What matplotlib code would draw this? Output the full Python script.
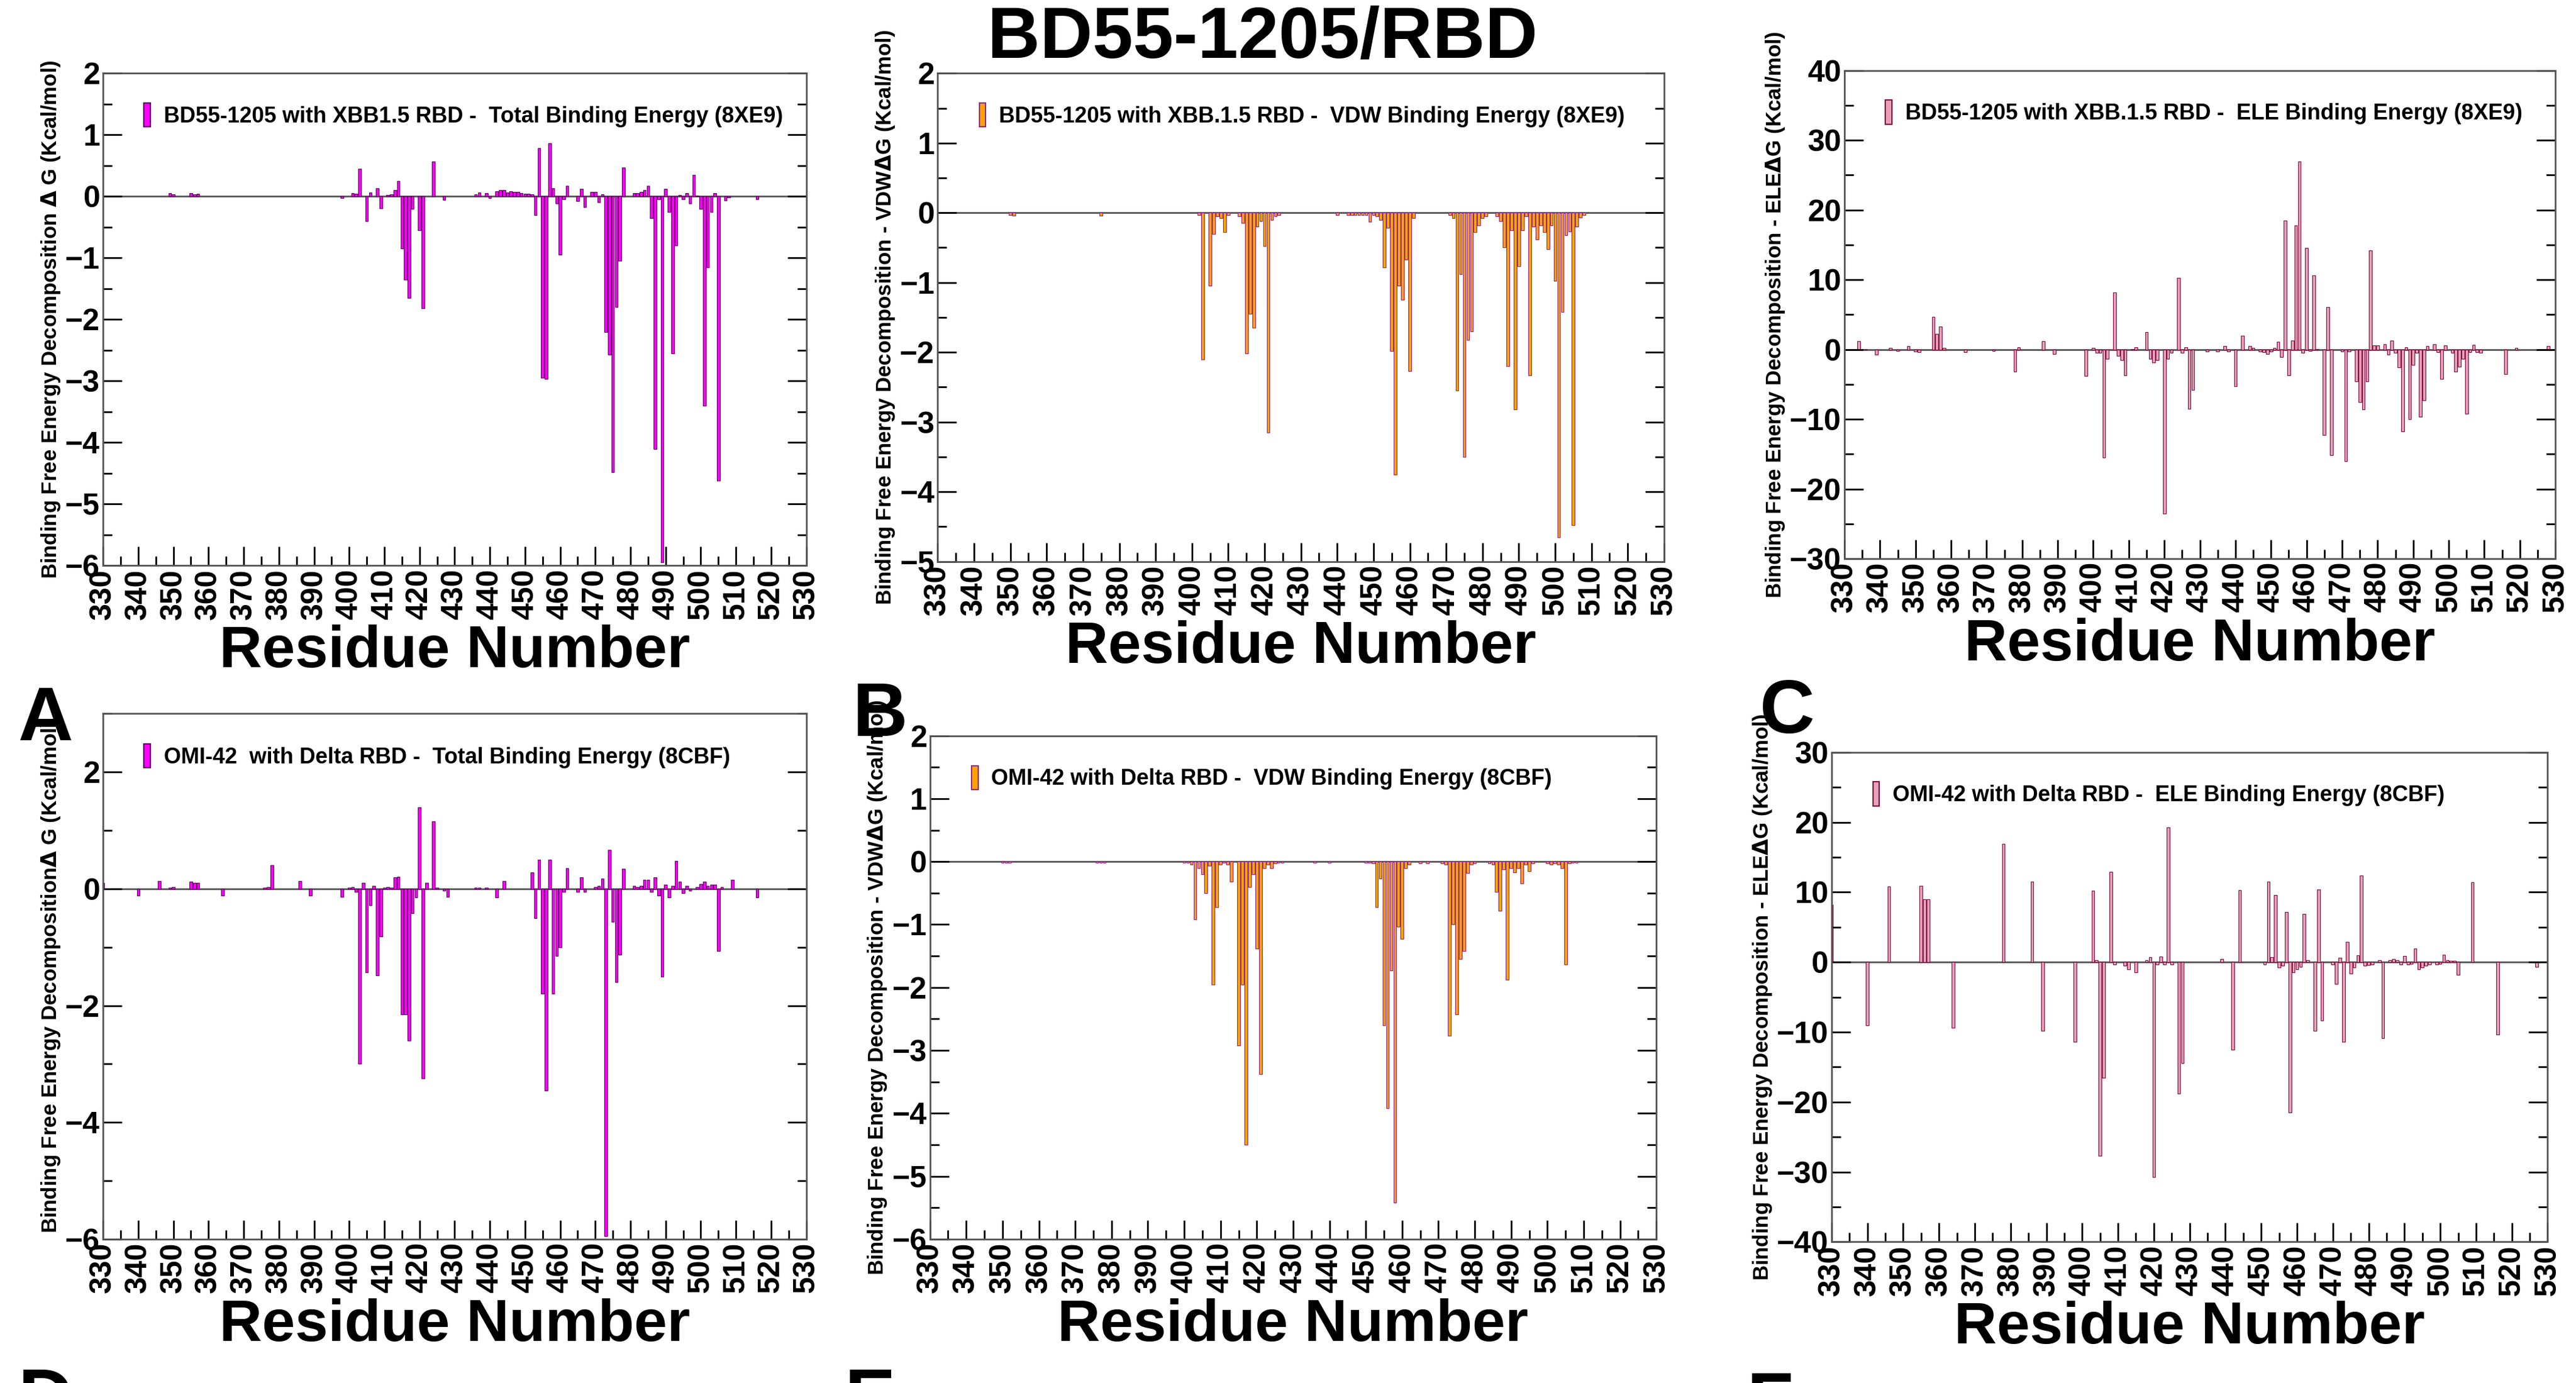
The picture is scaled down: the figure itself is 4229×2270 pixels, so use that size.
import matplotlib.pyplot as plt
from matplotlib.patches import Rectangle
from matplotlib.ticker import MultipleLocator

plt.rcParams['font.family'] = 'Liberation Sans'
plt.rcParams['font.weight'] = 'bold'

# ---- data: residue numbers and energies (kcal/mol) ----
res_a = [349,350,355,356,357,398,401,402,403,405,406,408,409,411,412,413,414,415,416,417,418,420,421,424,427,
         436,437,439,440,442,443,444,445,446,447,448,449,450,451,452,453,454,455,456,457,458,459,460,461,462,
         465,466,467,469,470,471,472,473,474,475,476,477,478,481,482,483,484,485,486,487,488,489,490,491,492,
         493,494,495,496,497,498,499,500,501,502,503,504,505,507,508,516]
val_a = [0.05,0.03,0.05,0.03,0.04,-0.03,0.05,0.04,0.45,-0.4,0.06,0.13,-0.19,0.02,0.03,0.1,0.25,-0.85,-1.35,-1.65,-0.2,-0.55,-1.82,0.57,-0.06,
         0.03,0.06,0.05,-0.03,0.08,0.1,0.1,0.06,0.08,0.07,0.07,0.05,0.04,0.04,0.03,-0.3,0.79,-2.95,-2.97,0.86,0.13,-0.12,-0.95,-0.05,0.17,
         -0.08,0.12,-0.17,0.07,0.07,-0.1,0.03,-2.2,-2.57,-4.48,-1.8,-1.05,0.47,0.05,0.05,0.07,0.1,0.17,-0.35,-4.1,-0.05,-5.95,0.12,-0.25,-2.55,
         -0.8,0.02,-0.05,0.05,-0.12,0.35,0.01,-0.2,-3.4,-1.15,-0.25,0.05,-4.62,-0.07,-0.02,-0.05]

res_b = [350,351,375,402,403,405,406,407,408,409,410,413,414,415,416,417,418,419,420,421,422,423,424,440,443,444,445,446,
         447,448,449,450,451,452,453,454,455,456,457,458,459,460,461,471,472,473,474,475,476,477,478,479,480,481,484,485,
         486,487,488,489,490,491,492,493,494,495,496,497,498,499,500,501,502,503,504,505,506,507,508]
val_b = [-0.03,-0.04,-0.04,-0.03,-2.1,-1.05,-0.3,-0.05,-0.08,-0.28,-0.03,-0.05,-0.15,-2.02,-1.45,-1.65,-0.2,-0.12,-0.48,-3.15,-0.1,-0.05,-0.03,-0.03,-0.03,-0.03,-0.03,-0.03,
         -0.03,-0.03,-0.13,-0.03,-0.05,-0.1,-0.78,-0.22,-1.98,-3.75,-1.05,-1.25,-0.67,-2.27,-0.08,-0.03,-0.08,-2.55,-0.88,-3.5,-1.82,-1.7,-0.28,-0.18,-0.08,-0.05,-0.05,-0.12,
         -0.5,-2.2,-0.25,-2.82,-0.77,-0.25,-0.05,-2.33,-0.2,-0.38,-0.18,-0.28,-0.52,-0.18,-0.98,-4.65,-1.42,-0.32,-0.27,-4.48,-0.2,-0.07,-0.03]

res_c = [334,336,339,343,345,348,350,351,355,356,357,358,364,372,378,379,386,389,398,400,401,402,403,404,406,407,408,409,411,412,
         415,416,417,418,420,421,422,424,425,426,427,428,432,435,437,438,440,442,444,445,447,448,449,450,451,452,453,454,455,456,
         457,458,459,460,461,462,463,465,466,467,470,471,472,474,475,476,477,478,479,480,482,483,484,485,486,487,488,489,490,491,
         492,493,494,496,497,498,499,501,502,503,504,505,506,507,508,509,516,519,528]
val_c = [1.2,0.1,-0.7,0.2,-0.2,0.5,-0.3,-0.4,4.7,2.2,3.3,0.2,-0.4,-0.2,-3.2,0.3,1.2,-0.6,-3.8,0.2,-0.5,-0.5,-15.5,-1.3,8.2,-0.9,-1.5,-3.7,0.1,0.3,
         2.5,-1.3,-1.9,-1.5,-23.5,-1.3,-0.5,10.3,-0.5,0.3,-8.5,-5.8,-0.3,-0.3,0.5,-0.3,-5.3,2.0,0.5,0.2,-0.3,-0.4,-0.6,-0.3,0.2,1.1,-1.1,18.5,-3.7,1.3,
         17.8,27.0,-0.5,14.6,-0.2,10.6,0.1,-12.3,6.1,-15.1,-0.3,-16.0,-0.3,-4.6,-7.5,-8.6,-4.6,14.2,0.6,0.6,0.8,-0.7,1.3,-0.5,-2.6,-11.7,0.3,-10.0,-2.2,-0.5,
         -9.6,-7.3,0.5,0.8,-0.4,-4.2,0.6,-0.5,-3.2,-2.5,-1.3,-9.2,-0.4,0.7,-0.4,-0.5,-3.5,0.2,0.5]

res_d = [330,340,346,349,350,355,356,357,364,376,377,378,386,389,398,400,401,402,403,404,405,406,407,408,409,410,411,412,413,414,
         415,416,417,418,419,420,421,422,424,425,427,428,436,437,439,442,444,452,453,454,455,456,457,458,459,460,461,462,465,466,
         467,470,471,472,473,474,475,476,477,478,481,482,483,484,485,486,487,488,489,490,491,492,493,494,495,496,497,499,500,501,
         502,503,504,505,506,509,516]
val_d = [0.1,-0.12,0.13,0.02,0.03,0.12,0.1,0.1,-0.12,0.02,0.03,0.41,0.13,-0.12,-0.14,0.02,0.03,-0.05,-3.0,0.1,-1.43,-0.28,0.05,-1.48,-0.82,0.02,0.03,0.02,0.2,0.21,
         -2.15,-2.15,-2.6,-0.42,-0.15,1.4,-3.25,0.1,1.16,0.02,-0.03,-0.14,0.02,0.02,0.02,-0.15,0.13,0.28,-0.5,0.5,-1.8,-3.45,0.5,-1.8,-1.15,-1.0,-0.05,0.35,-0.05,0.2,
         -0.05,0.03,0.05,0.18,-5.95,0.67,-0.57,-1.6,-1.13,0.34,0.05,0.03,0.05,0.15,0.15,-0.05,0.2,-0.12,-1.5,0.07,-0.15,0.05,0.48,0.12,-0.07,0.05,-0.03,0.03,0.08,0.12,
         0.05,0.07,0.07,-1.07,0.03,0.15,-0.15]

res_e = [350,351,352,376,377,378,400,401,402,403,404,405,406,407,408,409,410,411,412,413,415,416,417,418,419,420,421,422,423,424,
         425,426,427,436,440,450,451,452,453,454,455,456,457,458,459,460,461,462,465,467,471,472,473,474,475,476,477,478,479,480,
         484,485,486,487,488,489,490,491,492,493,494,495,496,500,501,502,503,504,505,506,507,508]
val_e = [-0.02,-0.02,-0.02,-0.02,-0.02,-0.02,-0.02,-0.02,-0.05,-0.92,-0.1,-0.2,-0.5,-0.07,-1.95,-0.72,-0.05,-0.02,-0.05,-0.32,-2.92,-1.95,-4.5,-0.4,-0.2,-1.38,-3.38,-0.1,-0.05,-0.1,
         -0.03,-0.02,-0.02,-0.02,-0.02,-0.02,-0.02,-0.03,-0.72,-0.27,-2.6,-3.92,-1.73,-5.42,-1.03,-1.23,-0.1,-0.05,-0.03,-0.03,-0.03,-0.05,-2.77,-1.0,-2.43,-1.55,-1.42,-0.18,-0.05,-0.03,
         -0.03,-0.05,-0.48,-0.78,-0.12,-1.88,-0.1,-0.17,-0.1,-0.35,-0.05,-0.15,-0.03,-0.03,-0.05,-0.03,-0.05,-0.1,-1.63,-0.03,-0.02,-0.02]

res_f = [330,340,346,355,356,357,364,378,386,389,398,403,404,405,406,408,409,412,413,415,418,419,420,421,422,423,424,425,427,428,
         439,442,444,451,452,453,454,455,456,457,458,459,460,461,462,463,465,466,467,470,471,472,473,474,475,476,477,478,479,480,
         481,483,484,486,487,488,489,490,491,492,493,494,495,496,497,499,500,501,502,503,504,505,509,516,527]
val_f = [8.2,-9.0,10.8,10.9,9.0,9.0,-9.4,16.9,11.5,-9.8,-11.4,10.2,0.3,-27.7,-16.5,12.9,-0.3,-0.5,-1.0,-1.5,0.3,0.7,-30.7,-0.3,0.8,-0.3,19.3,-0.3,-18.8,-14.4,
         0.5,-12.5,10.3,-0.3,11.5,0.7,9.6,-0.8,-0.5,7.2,-21.5,-1.5,-1.0,-0.7,6.9,0.3,-9.8,10.4,-8.3,-0.3,-3.1,0.6,-11.4,2.9,-1.6,-0.8,1.0,12.4,-0.5,-0.4,
         -0.3,0.3,-10.9,0.3,0.5,0.3,-0.3,0.9,-0.3,-0.2,1.9,-1.0,-0.8,-0.5,-0.3,-0.3,-0.2,1.1,0.3,0.2,0.2,-1.8,11.4,-10.3,-0.7]

magenta = '#ff00ff'
orange = '#ffa200'
rose = '#e8a0b8'

panels = [
    # letter, res, val, face, edge, ylim, major, minor, ylabel, legend, rect(l,b,w,h)
    ('A', res_a, val_a, magenta, '#5a005a', (-6, 2), 1, 0.5,
     'Binding Free Energy Decomposition $\\Delta$ G (Kcal/mol)',
     'BD55-1205 with XBB1.5 RBD -  Total Binding Energy (8XE9)', (0.040, 0.591, 0.273, 0.356)),
    ('B', res_b, val_b, orange, '#8a2a8a', (-5, 2), 1, 0.5,
     'Binding Free Energy Decomposition - VDW$\\Delta$G (Kcal/mol)',
     'BD55-1205 with XBB.1.5 RBD -  VDW Binding Energy (8XE9)', (0.364, 0.594, 0.282, 0.353)),
    ('C', res_c, val_c, rose, '#7a1040', (-30, 40), 10, 5,
     'Binding Free Energy Decomposition - ELE$\\Delta$G (Kcal/mol)',
     'BD55-1205 with XBB.1.5 RBD -  ELE Binding Energy (8XE9)', (0.716, 0.596, 0.276, 0.353)),
    ('D', res_d, val_d, magenta, '#5a005a', (-6, 3), 2, 1,
     'Binding Free Energy Decomposition$\\Delta$ G (Kcal/mol)',
     'OMI-42  with Delta RBD -  Total Binding Energy (8CBF)', (0.040, 0.104, 0.273, 0.380)),
    ('E', res_e, val_e, orange, '#8a2a8a', (-6, 2), 1, 0.5,
     'Binding Free Energy Decomposition - VDW$\\Delta$G (Kcal/mol)',
     'OMI-42 with Delta RBD -  VDW Binding Energy (8CBF)', (0.361, 0.104, 0.282, 0.364)),
    ('F', res_f, val_f, rose, '#7a1040', (-40, 30), 10, 5,
     'Binding Free Energy Decomposition - ELE$\\Delta$G (Kcal/mol)',
     'OMI-42 with Delta RBD -  ELE Binding Energy (8CBF)', (0.711, 0.102, 0.278, 0.354)),
]

fig = plt.figure(figsize=(42.29, 22.70), dpi=100)

for letter, res, val, face, edge, ylim, major, minor, ylabel, leg, rect in panels:
    ax = fig.add_axes(rect)
    ax.bar(res, val, width=0.8, color=face, edgecolor=edge, linewidth=0.8)
    ax.axhline(0, color='#555555', lw=2, zorder=0)
    ax.set_xlim(330, 530)
    ax.set_ylim(*ylim)
    ax.xaxis.set_major_locator(MultipleLocator(10))
    ax.xaxis.set_minor_locator(MultipleLocator(5))
    ax.yaxis.set_major_locator(MultipleLocator(major))
    ax.yaxis.set_minor_locator(MultipleLocator(minor))
    ax.tick_params(which='both', direction='in', left=True, right=True, bottom=True, top=False)
    ax.tick_params(which='major', length=22, width=2)
    ax.tick_params(which='minor', length=11, width=2)
    ax.tick_params(axis='x', labelrotation=90, labelsize=36)
    ax.tick_params(axis='y', labelsize=36)
    for t in ax.get_xticklabels() + ax.get_yticklabels():
        t.set_fontweight('bold')
    if letter == 'D':
        ax.set_yticks([-6, -4, -2, 0, 2])
    for s in ax.spines.values():
        s.set_color('#555555')
        s.set_linewidth(2)
    ax.set_ylabel(ylabel, fontsize=25, fontweight='bold', labelpad=4)
    ax.set_xlabel('Residue Number', fontsize=70, fontweight='bold', labelpad=6)
    handle = Rectangle((0, 0), 1, 1, facecolor=face, edgecolor=edge, lw=1.5)
    ax.legend([handle], [leg], loc='upper left', frameon=False, fontsize=26,
              handlelength=0.3, handleheight=1.3, handletextpad=0.6,
              bbox_to_anchor=(0.03, 0.98))
    dy = 0.052 if rect[1] > 0.5 else 0.058
    fig.text(rect[0] - 0.033, rect[1] - dy - 0.06, letter, fontsize=90, fontweight='bold',
             ha='left', va='center')

fig.text(0.49, 0.972, 'BD55-1205/RBD', fontsize=86, fontweight='bold', ha='center', va='center')

fig.savefig('out.png', dpi=100, facecolor='white')
